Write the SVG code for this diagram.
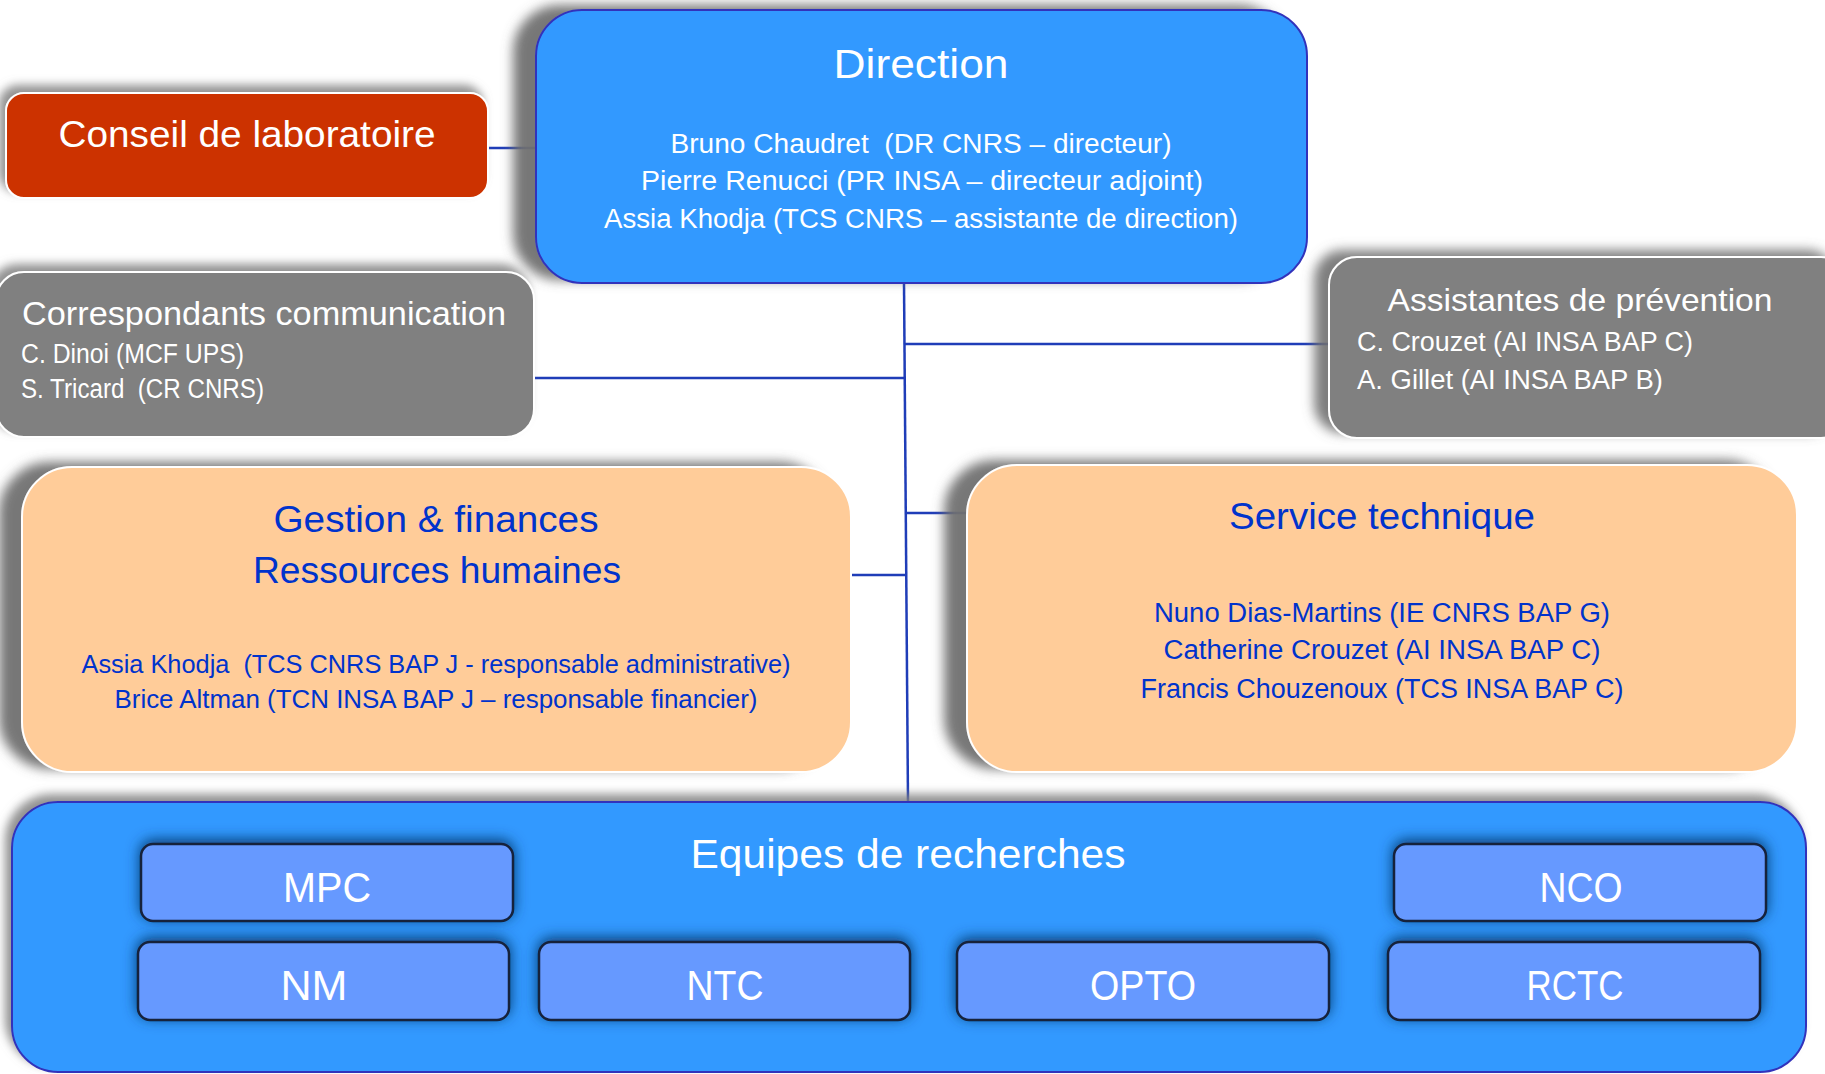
<svg xmlns="http://www.w3.org/2000/svg" width="1825" height="1074" viewBox="0 0 1825 1074">
<defs>
<filter id="shBig" x="-10%" y="-20%" width="120%" height="140%">
<feDropShadow dx="-22" dy="-4" stdDeviation="6" flood-color="#6f6f6f" flood-opacity="0.95"/>
</filter>
<filter id="shMid" x="-10%" y="-20%" width="120%" height="140%">
<feDropShadow dx="-14" dy="-6" stdDeviation="6" flood-color="#6f6f6f" flood-opacity="0.9"/>
</filter>
<filter id="shSmall" x="-10%" y="-20%" width="120%" height="140%">
<feDropShadow dx="-6" dy="-7" stdDeviation="5" flood-color="#7f7f7f" flood-opacity="0.85"/>
</filter>
<filter id="shTeam" x="-10%" y="-40%" width="120%" height="180%">
<feDropShadow dx="0" dy="-3" stdDeviation="7" flood-color="#0e3a70" flood-opacity="1"/>
</filter>
</defs>
<style>
text{font-family:"Liberation Sans",Arial,sans-serif;white-space:pre}
.w{fill:#ffffff}
.b{fill:#0033cc}
.blue{fill:#3399ff;stroke:#3333bb;stroke-width:2}
.gray{fill:#808080;stroke:#ffffff;stroke-width:2}
.peach{fill:#ffcc99;stroke:#ffffff;stroke-width:2}
.team{fill:#6699ff;stroke:#14203a;stroke-width:2.5}
.conn{stroke:#1f3db8;stroke-width:2.5;fill:none}
</style>
<rect width="1825" height="1074" fill="#ffffff"/>

<g id="connectors">
<path class="conn" d="M488 148 H537"/>
<path class="conn" d="M534 378 H906"/>
<path class="conn" d="M905 344 H1328"/>
<path class="conn" d="M851 575 H907"/>
<path class="conn" d="M907 513 H968"/>
<path class="conn" d="M904 283 L908 802"/>
</g>

<g id="conseil">
<rect x="6" y="93" width="482" height="105" rx="18" fill="#cc3300" stroke="#ffffff" stroke-width="2" filter="url(#shSmall)"/>
<text class="w" x="247" y="147" font-size="37" text-anchor="middle" textLength="377" lengthAdjust="spacingAndGlyphs">Conseil de laboratoire</text>
</g>

<g id="direction">
<rect class="blue" x="536" y="10" width="771" height="273" rx="46" filter="url(#shBig)"/>
<text class="w" x="921" y="78" font-size="41" text-anchor="middle" textLength="175" lengthAdjust="spacingAndGlyphs">Direction</text>
<text class="w" x="921" y="153" font-size="27" text-anchor="middle" textLength="501" lengthAdjust="spacingAndGlyphs">Bruno Chaudret  (DR CNRS – directeur)</text>
<text class="w" x="922" y="190" font-size="27" text-anchor="middle" textLength="562" lengthAdjust="spacingAndGlyphs">Pierre Renucci (PR INSA – directeur adjoint)</text>
<text class="w" x="921" y="228" font-size="27" text-anchor="middle" textLength="634" lengthAdjust="spacingAndGlyphs">Assia Khodja (TCS CNRS – assistante de direction)</text>
</g>

<g id="correspondants">
<rect class="gray" x="-4" y="272" width="538" height="165" rx="28" filter="url(#shSmall)"/>
<text class="w" x="22" y="325" font-size="33" textLength="484" lengthAdjust="spacingAndGlyphs">Correspondants communication</text>
<text class="w" x="21" y="363" font-size="27" textLength="223" lengthAdjust="spacingAndGlyphs">C. Dinoi (MCF UPS)</text>
<text class="w" x="21" y="398" font-size="27" textLength="243" lengthAdjust="spacingAndGlyphs">S. Tricard  (CR CNRS)</text>
</g>

<g id="assistantes">
<rect class="gray" x="1329" y="257" width="520" height="181" rx="28" filter="url(#shMid)"/>
<text class="w" x="1580" y="311" font-size="32" text-anchor="middle" textLength="385" lengthAdjust="spacingAndGlyphs">Assistantes de prévention</text>
<text class="w" x="1357" y="351" font-size="27" textLength="336" lengthAdjust="spacingAndGlyphs">C. Crouzet (AI INSA BAP C)</text>
<text class="w" x="1357" y="389" font-size="27" textLength="306" lengthAdjust="spacingAndGlyphs">A. Gillet (AI INSA BAP B)</text>
</g>

<g id="gestion">
<rect class="peach" x="22" y="467" width="829" height="305" rx="50" filter="url(#shBig)"/>
<text class="b" x="436" y="532" font-size="36" text-anchor="middle" textLength="325" lengthAdjust="spacingAndGlyphs">Gestion &amp; finances</text>
<text class="b" x="437" y="583" font-size="36" text-anchor="middle" textLength="368" lengthAdjust="spacingAndGlyphs">Ressources humaines</text>
<text class="b" x="436" y="673" font-size="25" text-anchor="middle" textLength="709" lengthAdjust="spacingAndGlyphs">Assia Khodja  (TCS CNRS BAP J - responsable administrative)</text>
<text class="b" x="436" y="708" font-size="25" text-anchor="middle" textLength="643" lengthAdjust="spacingAndGlyphs">Brice Altman (TCN INSA BAP J – responsable financier)</text>
</g>

<g id="service">
<rect class="peach" x="967" y="465" width="830" height="307" rx="50" filter="url(#shBig)"/>
<text class="b" x="1382" y="529" font-size="36" text-anchor="middle" textLength="306" lengthAdjust="spacingAndGlyphs">Service technique</text>
<text class="b" x="1382" y="622" font-size="27" text-anchor="middle" textLength="456" lengthAdjust="spacingAndGlyphs">Nuno Dias-Martins (IE CNRS BAP G)</text>
<text class="b" x="1382" y="659" font-size="27" text-anchor="middle" textLength="437" lengthAdjust="spacingAndGlyphs">Catherine Crouzet (AI INSA BAP C)</text>
<text class="b" x="1382" y="698" font-size="27" text-anchor="middle" textLength="483" lengthAdjust="spacingAndGlyphs">Francis Chouzenoux (TCS INSA BAP C)</text>
</g>

<g id="equipes">
<rect class="blue" x="12" y="802" width="1794" height="270" rx="46" filter="url(#shSmall)"/>
<text class="w" x="908" y="868" font-size="40" text-anchor="middle" textLength="435" lengthAdjust="spacingAndGlyphs">Equipes de recherches</text>
</g>

<g id="team-mpc">
<rect class="team" x="141" y="844" width="372" height="77" rx="12" filter="url(#shTeam)"/>
<text class="w" x="327" y="902" font-size="42" text-anchor="middle" textLength="88" lengthAdjust="spacingAndGlyphs">MPC</text>
</g>
<g id="team-nco">
<rect class="team" x="1394" y="844" width="372" height="77" rx="12" filter="url(#shTeam)"/>
<text class="w" x="1581" y="902" font-size="42" text-anchor="middle" textLength="83" lengthAdjust="spacingAndGlyphs">NCO</text>
</g>
<g id="team-nm">
<rect class="team" x="138" y="942" width="371" height="78" rx="12" filter="url(#shTeam)"/>
<text class="w" x="314" y="1000" font-size="42" text-anchor="middle" textLength="67" lengthAdjust="spacingAndGlyphs">NM</text>
</g>
<g id="team-ntc">
<rect class="team" x="539" y="942" width="371" height="78" rx="12" filter="url(#shTeam)"/>
<text class="w" x="725" y="1000" font-size="42" text-anchor="middle" textLength="77" lengthAdjust="spacingAndGlyphs">NTC</text>
</g>
<g id="team-opto">
<rect class="team" x="957" y="942" width="372" height="78" rx="12" filter="url(#shTeam)"/>
<text class="w" x="1143" y="1000" font-size="42" text-anchor="middle" textLength="106" lengthAdjust="spacingAndGlyphs">OPTO</text>
</g>
<g id="team-rctc">
<rect class="team" x="1388" y="942" width="372" height="78" rx="12" filter="url(#shTeam)"/>
<text class="w" x="1575" y="1000" font-size="42" text-anchor="middle" textLength="97" lengthAdjust="spacingAndGlyphs">RCTC</text>
</g>
</svg>
